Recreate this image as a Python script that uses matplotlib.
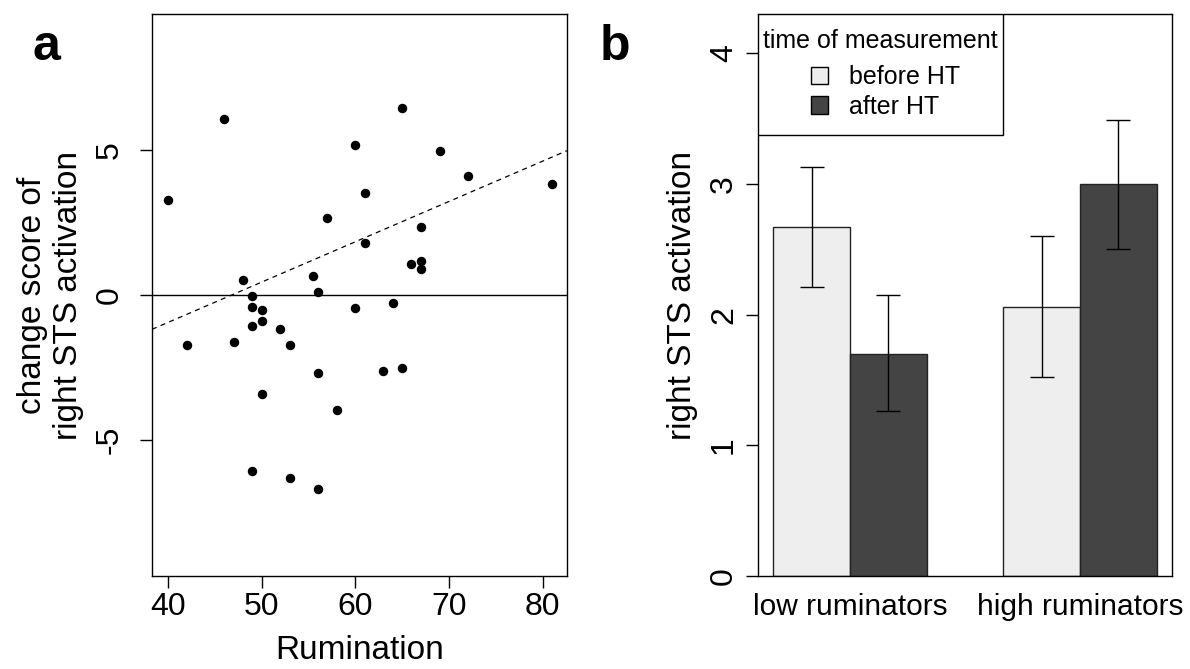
import matplotlib

matplotlib.use("Agg")

import matplotlib.pyplot as plt  # noqa: E402
from matplotlib.patches import Patch, Rectangle  # noqa: E402

# panel a: rumination score vs change score of right STS activation
rumination = [40, 42, 46, 47, 48, 49, 49, 49, 49, 50, 50, 50, 52, 53, 53, 55.5, 56, 56,
              56, 57, 58, 60, 60, 61, 61, 63, 64, 65, 65, 66, 67, 67, 67, 69, 72, 81]
change_score = [3.30, -1.73, 6.09, -1.63, 0.51, -0.05, -0.40, -1.07, -6.09, -0.51, -0.89,
                -3.41, -1.17, -1.73, -6.32, 0.67, 0.11, -2.69, -6.71, 2.67, -3.97, 5.20,
                -0.45, 3.52, 1.80, -2.62, -0.28, 6.48, -2.51, 1.06, 1.17, 0.89, 2.34, 4.97,
                4.13, 3.85]
fit_intercept = -6.53   # dashed regression line
fit_slope = 0.1395

# panel b: mean right STS activation with error bars
groups = ["low ruminators", "high ruminators"]
series = ["before HT", "after HT"]
before_ht = [2.67, 2.06]
after_ht = [1.70, 3.00]
before_lo = [2.21, 1.52]
before_hi = [3.13, 2.60]
after_lo = [1.26, 2.50]
after_hi = [2.15, 3.49]

LIGHT = "#eeeeee"
DARK = "#444444"
W, H = 1190, 669

plt.rcParams.update({
    "font.family": ["Liberation Sans", "DejaVu Sans"],
    "axes.unicode_minus": False,
    "axes.linewidth": 1.0,
    "xtick.direction": "out",
    "ytick.direction": "out",
    "xtick.major.size": 8.6,
    "ytick.major.size": 8.6,
    "xtick.major.width": 1.0,
    "ytick.major.width": 1.0,
})


def px_axes(fig, left, right, top, bottom):
    return fig.add_axes([left / W, 1 - bottom / H, (right - left) / W, (bottom - top) / H])


fig = plt.figure(figsize=(W / 100, H / 100), dpi=100)

# ---- panel a ----
ax = px_axes(fig, 152, 567, 14, 576)
ax.plot(rumination, change_score, "o", color="black", ms=5.8)
ax.axhline(0, color="black", lw=1.0)
ax.axline((0, fit_intercept), slope=fit_slope, color="black", lw=0.9, ls=(0, (4, 3.5)))
ax.set_xlim(38.3, 82.6)
ax.set_ylim(-9.72, 9.72)
ax.set_xticks([40, 50, 60, 70, 80])
ax.set_yticks([-5, 0, 5])
ax.tick_params(axis="x", labelsize=23, pad=3)
ax.tick_params(axis="y", labelsize=23, pad=11, labelrotation=90)
for lbl in ax.get_yticklabels():
    lbl.set_va("center")
ax.set_xlabel("Rumination", fontsize=24, labelpad=9)
ax.set_ylabel("change score of\nright STS activation", fontsize=24, labelpad=8)
fig.text(33 / W, 1 - 60 / H, "a", fontsize=36, fontweight="bold", ha="left", va="baseline")

# ---- panel b ----
bx = px_axes(fig, 758, 1172, 14, 576)
centers = [2.0, 5.0]
before_x = [c - 0.5 for c in centers]
after_x = [c + 0.5 for c in centers]
bar_kw = dict(width=1.0, edgecolor="#222222", linewidth=1.0)
bx.bar(before_x, before_ht, color=LIGHT, **bar_kw)
bx.bar(after_x, after_ht, color=DARK, **bar_kw)
err_kw = dict(fmt="none", ecolor="black", elinewidth=1.0, capsize=8.6, capthick=1.0)
bx.errorbar(before_x, before_ht,
            yerr=[[m - lo for m, lo in zip(before_ht, before_lo)],
                  [hi - m for m, hi in zip(before_ht, before_hi)]], **err_kw)
bx.errorbar(after_x, after_ht,
            yerr=[[m - lo for m, lo in zip(after_ht, after_lo)],
                  [hi - m for m, hi in zip(after_ht, after_hi)]], **err_kw)
bx.set_xlim(0.8, 6.2)
bx.set_ylim(0, 4.3)
bx.set_xticks(centers)
bx.set_xticklabels(groups)
bx.set_yticks([0, 1, 2, 3, 4])
bx.tick_params(axis="x", length=0, labelsize=21.5, pad=12)
bx.tick_params(axis="y", labelsize=23, pad=5, labelrotation=90)
for lbl in bx.get_yticklabels():
    lbl.set_va("center")
bx.set_ylabel("right STS activation", fontsize=24, labelpad=8)

# legend: R-style box in the top-left corner with the title on top
box_w = (1003 - 758) / 414
box_h = (135 - 14) / 562
bx.add_patch(Rectangle((0, 1 - box_h), box_w, box_h, transform=bx.transAxes,
                       facecolor="white", edgecolor="black", lw=1.0, zorder=4))
bx.text(box_w / 2, (576 - 47.5) / 562, "time of measurement", transform=bx.transAxes,
        fontsize=18, ha="center", va="baseline", zorder=5)
handles = [Patch(facecolor=LIGHT, edgecolor="black", lw=1.0),
           Patch(facecolor=DARK, edgecolor="black", lw=1.0)]
leg = bx.legend(handles, series, loc="center",
                bbox_to_anchor=((886 - 758) / 414, (576 - 92) / 562),
                frameon=False, fontsize=18, borderpad=0, borderaxespad=0,
                handlelength=0.68, handleheight=0.68, handletextpad=0.84,
                labelspacing=0.22)
leg.set_zorder(6)
fig.text(600 / W, 1 - 60 / H, "b", fontsize=36, fontweight="bold", ha="left", va="baseline")

fig.savefig("out.png", dpi=100)
